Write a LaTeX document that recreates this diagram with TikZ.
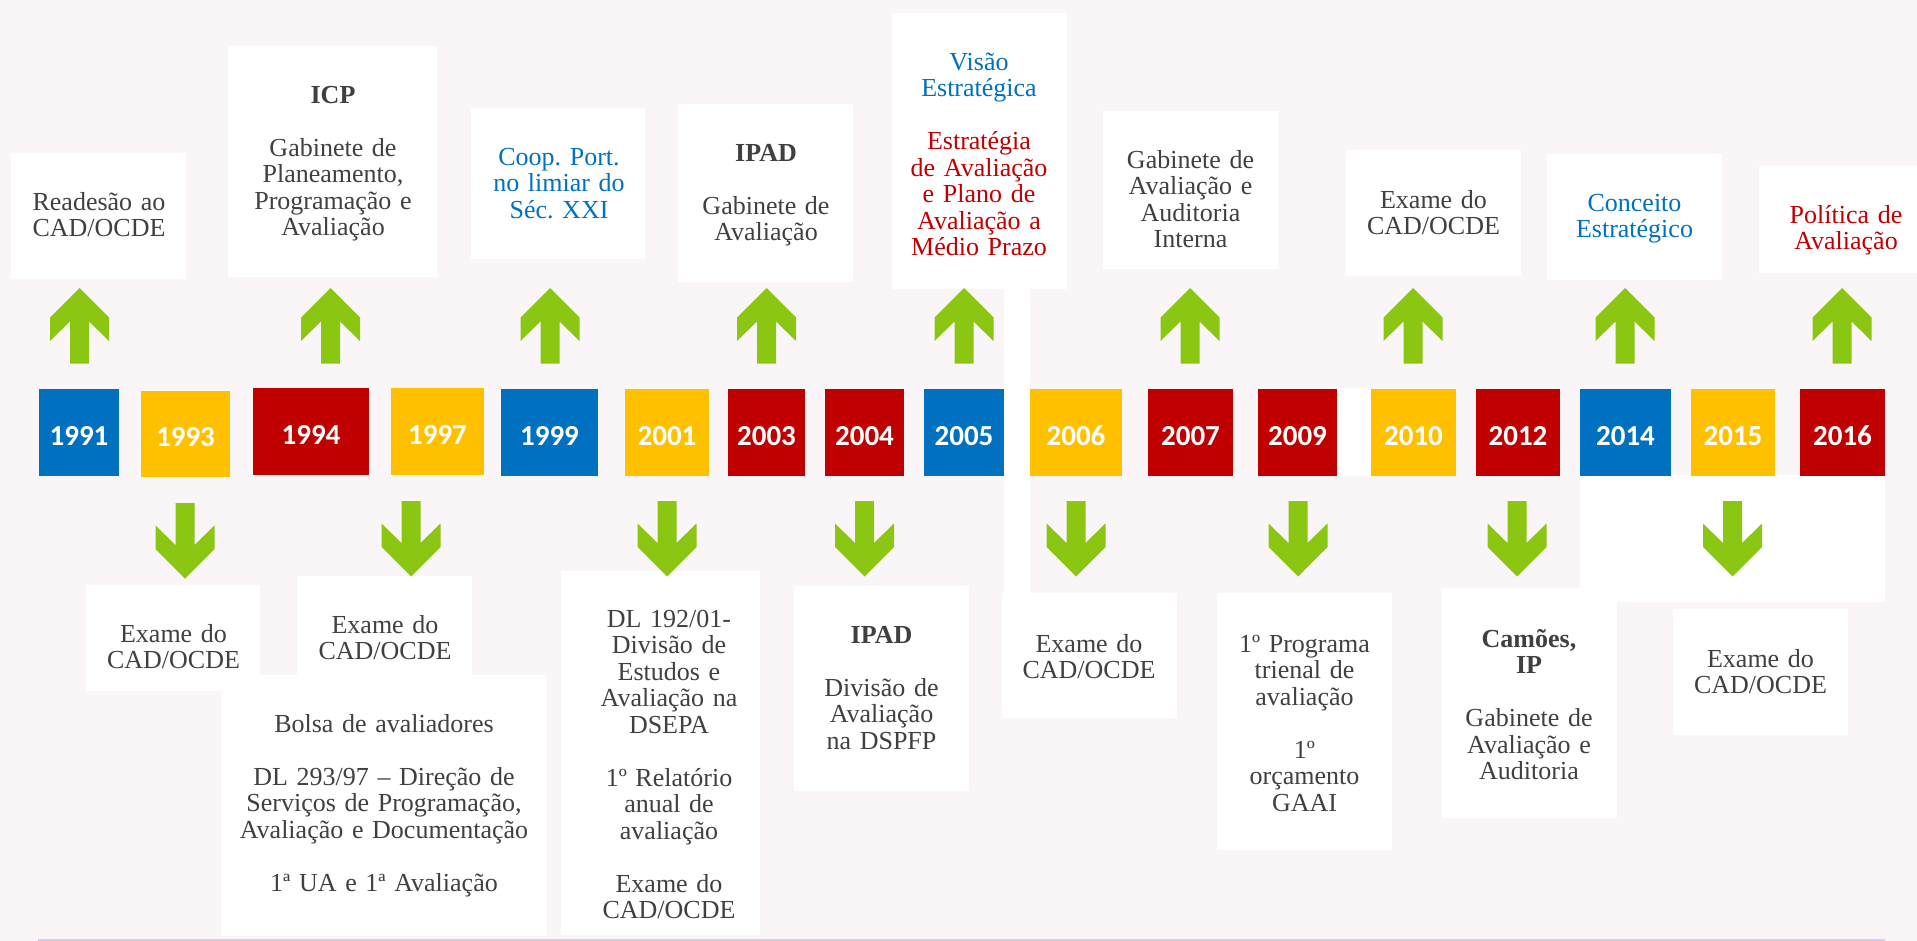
\documentclass[tikz,border=0pt]{standalone}
\usepackage{fontspec}
\setmainfont{Liberation Serif}
\newfontfamily\yearfont{Carlito}
\usetikzlibrary{fit}
\definecolor{bg}{RGB}{250,246,247}
\definecolor{tgray}{RGB}{64,64,64}
\definecolor{tblue}{RGB}{0,112,192}
\definecolor{tred}{RGB}{192,0,0}
\definecolor{yblue}{RGB}{0,112,192}
\definecolor{yorange}{RGB}{255,192,0}
\definecolor{yred}{RGB}{192,0,0}
\definecolor{agreen}{RGB}{139,198,19}
\definecolor{lav}{RGB}{216,202,245}
\setlength\parindent{0pt}
\frenchspacing
\newcommand\yrtext[1]{\raisebox{0pt}[\dimexpr\height+3pt\relax][0pt]{#1}}
\begin{document}
\begin{tikzpicture}[x=0.5pt,y=-0.5pt,
  box/.style={fill=white, draw=none, inner sep=0pt, outer sep=0pt},
  txt/.style={anchor=north, inner sep=0pt, text width=170pt, align=center,
    font=\fontsize{13pt}{13.25pt}\selectfont\frenchspacing, text=tgray},
  yr/.style={inner sep=0pt, outer sep=0pt, text=white, minimum height=43.5pt,
    font=\yearfont\bfseries\fontsize{14.5pt}{17pt}\selectfont},
  uparr/.pic={\fill[agreen] (0,0) -- (29.5,29.5) -- (29.5,53) -- (9.5,33.5)
     -- (9.5,75.5) -- (-9.5,75.5) -- (-9.5,33.5) -- (-29.5,53) -- (-29.5,29.5) -- cycle;},
  dnarr/.pic={\fill[agreen] (-9.5,0) -- (9.5,0) -- (9.5,42) -- (29.5,22.5)
     -- (29.5,46) -- (0,75.5) -- (-29.5,46) -- (-29.5,22.5) -- (-9.5,42) -- cycle;}
]
\useasboundingbox (0,0) rectangle (1917,941);
\fill[bg] (0,0) rectangle (1917,941);

% white background pieces
\fill[white] (1003.5,289) rectangle (1030,594);
\fill[white] (1337,388) rectangle (1371,476);
\fill[white] (1580,475) rectangle (1885,602);

% bottom line
\coordinate (bl1) at (38,940);
\coordinate (bl2) at (1885,940);
\draw[lav, line width=0.8pt] (bl1) -- (bl2);

% upper boxes
\node[box, fit={(11,153) (186,279)}] (bA) {};
\node[box, fit={(228,46) (437,277)}] (bB) {};
\node[box, fit={(471,108) (645,259)}] (bC) {};
\node[box, fit={(678,104) (853,282)}] (bD) {};
\node[box, fit={(892,13) (1067,289)}] (bE) {};
\node[box, fit={(1103,111) (1278,269)}] (bF) {};
\node[box, fit={(1346,150) (1521,276)}] (bG) {};
\node[box, fit={(1547,154) (1722,280)}] (bH) {};
\node[box, fit={(1759,166) (1917,273)}] (bI) {};

% lower boxes
\node[box, fit={(86,585) (260,691)}] (bJ) {};
\node[box, fit={(297,576) (472,675)}] (bK) {};
\node[box, fit={(221,675) (547,936)}] (bL) {};
\node[box, fit={(561,571) (760,935)}] (bM) {};
\node[box, fit={(794,586) (969,791)}] (bN) {};
\node[box, fit={(1002,593) (1177,718)}] (bO) {};
\node[box, fit={(1217,593) (1392,850)}] (bP) {};
\node[box, fit={(1442,588) (1617,818)}] (bQ) {};
\node[box, fit={(1673,609) (1848,735)}] (bR) {};

% year boxes
\node[yr, fill=yblue,   minimum width=40pt]   (y1991) at (79,432.5)   {\yrtext{1991}};
\node[yr, fill=yorange, minimum width=44.5pt, minimum height=43pt] (y1993) at (185.5,434) {\yrtext{1993}};
\node[yr, fill=yred,    minimum width=58pt]   (y1994) at (311,431.5)  {\yrtext{1994}};
\node[yr, fill=yorange, minimum width=46.5pt] (y1997) at (437.5,431.5) {\yrtext{1997}};
\node[yr, fill=yblue,   minimum width=48.5pt] (y1999) at (549.5,432.5) {\yrtext{1999}};
\node[yr, fill=yorange, minimum width=42pt]   (y2001) at (667,432.5)   {\yrtext{2001}};
\node[yr, fill=yred,    minimum width=38.5pt] (y2003) at (766.5,432.5) {\yrtext{2003}};
\node[yr, fill=yred,    minimum width=39.5pt] (y2004) at (864.5,432.5) {\yrtext{2004}};
\node[yr, fill=yblue,   minimum width=40pt]   (y2005) at (964,432.5)   {\yrtext{2005}};
\node[yr, fill=yorange, minimum width=46pt]   (y2006) at (1076,432.5)  {\yrtext{2006}};
\node[yr, fill=yred,    minimum width=42.5pt] (y2007) at (1190.5,432.5) {\yrtext{2007}};
\node[yr, fill=yred,    minimum width=39.5pt] (y2009) at (1297.5,432.5) {\yrtext{2009}};
\node[yr, fill=yorange, minimum width=42.5pt] (y2010) at (1413.5,432.5) {\yrtext{2010}};
\node[yr, fill=yred,    minimum width=42pt]   (y2012) at (1518,432.5)  {\yrtext{2012}};
\node[yr, fill=yblue,   minimum width=45.5pt] (y2014) at (1625.5,432.5) {\yrtext{2014}};
\node[yr, fill=yorange, minimum width=42pt]   (y2015) at (1733,432.5)  {\yrtext{2015}};
\node[yr, fill=yred,    minimum width=42.5pt] (y2016) at (1842.5,432.5) {\yrtext{2016}};

% arrows up
\pic (u1991) at (79.5,288) {uparr};
\pic (u1994) at (330.5,288) {uparr};
\pic (u1999) at (550,288) {uparr};
\pic (u2003) at (766.5,288) {uparr};
\pic (u2005) at (964,288) {uparr};
\pic (u2007) at (1190,288) {uparr};
\pic (u2010) at (1413,288) {uparr};
\pic (u2014) at (1625,288) {uparr};
\pic (u2016) at (1842,288) {uparr};

% arrows down
\pic (d1993) at (185,503) {dnarr};
\pic (d1997) at (411,501) {dnarr};
\pic (d2001) at (667,501) {dnarr};
\pic (d2004) at (864.5,501) {dnarr};
\pic (d2006) at (1076,501) {dnarr};
\pic (d2009) at (1298,501) {dnarr};
\pic (d2012) at (1517,501) {dnarr};
\pic (d2015) at (1732.5,501) {dnarr};

% texts upper
\node[txt] (tA) at (99,191.5) {\strut Readesão ao\\CAD/OCDE};
\node[txt] (tB) at (333,84.5) {\strut\textbf{ICP}\\[13.25pt]Gabinete de\\Planeamento,\\Programação e\\Avaliação};
\node[txt, text=tblue] (tC) at (559,146.5) {\strut Coop. Port.\\no limiar do\\Séc. XXI};
\node[txt] (tD) at (766,142.5) {\strut\textbf{IPAD}\\[13.25pt]Gabinete de\\Avaliação};
\node[txt, text=tblue] (tE) at (979,51.5) {\strut Visão\\Estratégica\\[13.25pt]\color{tred}Estratégia\\de Avaliação\\e Plano de\\Avaliação a\\Médio Prazo};
\node[txt] (tF) at (1190.5,149.5) {\strut Gabinete de\\Avaliação e\\Auditoria\\Interna};
\node[txt] (tG) at (1433.5,189.5) {\strut Exame do\\CAD/OCDE};
\node[txt, text=tblue] (tH) at (1634.5,192.5) {\strut Conceito\\Estratégico};
\node[txt, text=tred] (tI) at (1846,204.5) {\strut Política de\\Avaliação};

% texts lower
\node[txt] (tJ) at (173.5,623.5) {\strut Exame do\\CAD/OCDE};
\node[txt] (tK) at (385,614.5) {\strut Exame do\\CAD/OCDE};
\node[txt] (tL) at (384,713.5) {\strut Bolsa de avaliadores\\[13.25pt]DL 293/97 – Direção de\\Serviços de Programação,\\Avaliação e Documentação\\[13.25pt]1ª UA e 1ª Avaliação};
\node[txt] (tM) at (669,608.5) {\strut DL 192/01-\\Divisão de\\Estudos e\\Avaliação na\\DSEPA\\[13.25pt]1º Relatório\\anual de\\avaliação\\[13.25pt]Exame do\\CAD/OCDE};
\node[txt] (tN) at (881.5,624.5) {\strut\textbf{IPAD}\\[13.25pt]Divisão de\\Avaliação\\na DSPFP};
\node[txt] (tO) at (1089,633.5) {\strut Exame do\\CAD/OCDE};
\node[txt] (tP) at (1304.5,633.5) {\strut 1º Programa\\trienal de\\avaliação\\[13.25pt]1º\\orçamento\\GAAI};
\node[txt] (tQ) at (1529,628.5) {\strut\textbf{Camões,}\\\textbf{IP}\\[13.25pt]Gabinete de\\Avaliação e\\Auditoria};
\node[txt] (tR) at (1760.5,648.5) {\strut Exame do\\CAD/OCDE};
\end{tikzpicture}
\end{document}
